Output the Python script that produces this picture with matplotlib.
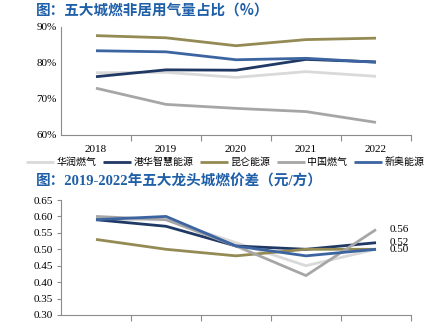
import matplotlib
matplotlib.use("Agg")
import matplotlib.pyplot as plt
from matplotlib.ticker import FixedLocator, NullFormatter

plt.rcParams['font.family'] = ['Liberation Serif', 'Noto Sans CJK SC', 'DejaVu Sans']

years = ["2018", "2019", "2020", "2021", "2022"]
companies = ["华润燃气", "港华智慧能源", "昆仑能源", "中国燃气", "新奥能源"]
colors = ["#d9d9d9", "#1f3864", "#948a54", "#a6a6a6", "#3c64a0"]

# non-residential gas share (%)
share_huarun = [77.3, 77.4, 76.0, 77.6, 76.3]
share_ganghua = [76.2, 78.1, 78.0, 81.0, 80.3]
share_kunlun = [87.6, 87.0, 84.8, 86.5, 86.9]
share_zhongguo = [73.0, 68.5, 67.4, 66.5, 63.5]
share_xinao = [83.4, 83.1, 80.9, 81.3, 80.2]

# price spread (yuan / m3)
spread_huarun = [0.59, 0.59, 0.52, 0.45, 0.50]
spread_ganghua = [0.59, 0.57, 0.51, 0.50, 0.52]
spread_kunlun = [0.53, 0.50, 0.48, 0.50, 0.50]
spread_zhongguo = [0.60, 0.59, 0.51, 0.42, 0.56]
spread_xinao = [0.59, 0.60, 0.51, 0.48, 0.50]

end_labels = ["0.56", "0.52", "0.50"]
end_values = [0.56, 0.52, 0.50]

share_series = [share_huarun, share_ganghua, share_kunlun, share_zhongguo, share_xinao]
spread_series = [spread_huarun, spread_ganghua, spread_kunlun, spread_zhongguo, spread_xinao]

W, H = 433, 323
fig = plt.figure(figsize=(W / 100, H / 100), dpi=100)

title_color = "#1f5fa8"
cjk = ['Noto Sans CJK SC', 'DejaVu Sans']
serif_cjk = ['Liberation Serif', 'Noto Sans CJK SC']

fig.text(36 / W, 1 - 10 / H, "图：五大城燃非居用气量占比（%）", family=cjk,
         fontsize=10.5, fontweight='bold', color=title_color, va='center', ha='left')
fig.text(36 / W, 1 - 181 / H, "图：2019-2022年五大龙头城燃价差（元/方）", family=serif_cjk,
         fontsize=10.5, fontweight='bold', color=title_color, va='center', ha='left')

x = list(range(len(years)))
spine_c = "#8c8c8c"


def style(ax):
    for s in ['top', 'right']:
        ax.spines[s].set_visible(False)
    for s in ['left', 'bottom']:
        ax.spines[s].set_color(spine_c)
        ax.spines[s].set_linewidth(0.8)
    ax.set_xlim(-0.5, len(years) - 0.5)
    ax.xaxis.set_minor_locator(FixedLocator([i + 0.5 for i in range(len(years))]))
    ax.tick_params(axis='x', which='major', length=0, labelsize=8, pad=6)
    ax.tick_params(axis='x', which='minor', length=4, color=spine_c, width=0.8)
    ax.tick_params(axis='y', which='major', length=4, color=spine_c, width=0.8,
                   labelsize=8, direction='in', pad=3)


# top chart
ax1 = fig.add_axes([61 / W, 1 - 135 / H, 350 / W, 108 / H])
style(ax1)
for vals, c, name in zip(share_series, colors, companies):
    ax1.plot(x, vals, color=c, lw=2.0, label=name, solid_capstyle='butt')
ax1.set_ylim(60, 90)
ax1.set_yticks([60, 70, 80, 90])
ax1.set_yticklabels([f"{v}%" for v in [60, 70, 80, 90]])
ax1.tick_params(axis='y', length=0)
ax1.set_xticks(x)
ax1.set_xticklabels(years)
ax1.tick_params(axis='x', which='major', pad=7)

leg = fig.legend(*ax1.get_legend_handles_labels(), loc='center',
                 bbox_to_anchor=(225 / W, 1 - 162 / H), ncol=5, frameon=False,
                 prop={'family': cjk, 'size': 7.2}, handlelength=2.8,
                 handletextpad=0.3, columnspacing=0.6, borderaxespad=0)

# bottom chart
ax2 = fig.add_axes([61 / W, 1 - 315 / H, 350 / W, 115 / H])
style(ax2)
for vals, c in zip(spread_series, colors):
    ax2.plot(x, vals, color=c, lw=2.0, solid_capstyle='butt')
ax2.set_ylim(0.30, 0.65)
ax2.set_yticks([0.30, 0.35, 0.40, 0.45, 0.50, 0.55, 0.60, 0.65])
ax2.set_yticklabels([f"{v:.2f}" for v in [0.30, 0.35, 0.40, 0.45, 0.50, 0.55, 0.60, 0.65]])
ax2.tick_params(axis='y', direction='out', length=3)
ax2.set_xticks(x)
ax2.xaxis.set_major_formatter(NullFormatter())
for lab, v in zip(end_labels, end_values):
    ax2.annotate(lab, xy=(x[-1], v), xytext=(10, 0), textcoords='offset points',
                 va='center', ha='left', fontsize=8)

fig.savefig("out.png", dpi=100)
